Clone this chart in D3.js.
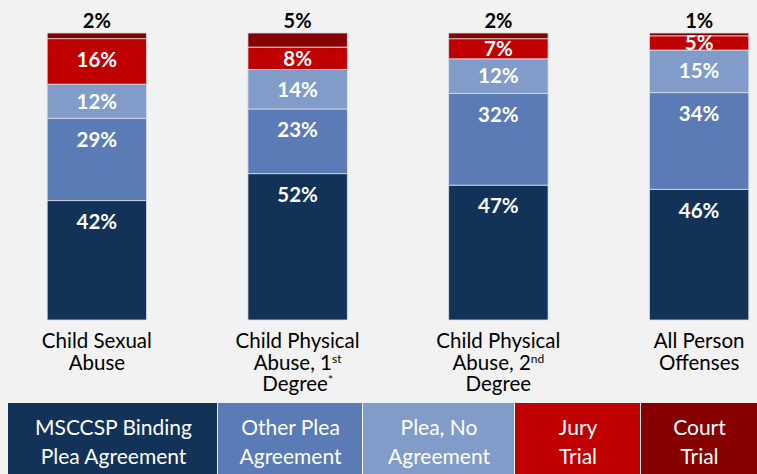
<!DOCTYPE html>
<html>
<head>
<meta charset="utf-8">
<script src="https://cdn.jsdelivr.net/npm/d3@7"></script>
<style>
  body { margin: 0; background: #f2f2f2; }
  svg { display: block; font-family: Lato, "Open Sans", sans-serif; }
</style>
</head>
<body>
<div id="chart"></div>
<script>
// categories and series, bottom to top
const categories = ["csa", "cpa1", "cpa2", "all"];
const categoryLines = [
  [["Child Sexual"], ["Abuse"]],
  [["Child Physical"], ["Abuse, 1", "st"], ["Degree", "*"]],
  [["Child Physical"], ["Abuse, 2", "nd"], ["Degree"]],
  [["All Person"], ["Offenses"]]
];
const seriesNames = ["MSCCSP Binding Plea Agreement", "Other Plea Agreement", "Plea, No Agreement", "Jury Trial", "Court Trial"];
const legendLines = [
  ["MSCCSP Binding", "Plea Agreement"],
  ["Other Plea", "Agreement"],
  ["Plea, No", "Agreement"],
  ["Jury", "Trial"],
  ["Court", "Trial"]
];
const colors = ["#133257", "#5a7bb5", "#819cc9", "#c00000", "#870000"];

const binding   = [42, 52, 47, 46];
const otherPlea = [29, 23, 32, 34];
const noAgree   = [12, 14, 12, 15];
const jury      = [16, 8, 7, 5];
const court     = [2, 5, 2, 1];

const width = 757, height = 474;
const plotTop = 33, plotBottom = 320;

const rows = categories.map((c, i) => ({
  cat: c,
  s0: binding[i], s1: otherPlea[i], s2: noAgree[i], s3: jury[i], s4: court[i]
}));
const keys = ["s0", "s1", "s2", "s3", "s4"];

const stacked = d3.stack().keys(keys).offset(d3.stackOffsetExpand)(rows);

const x = d3.scaleBand().domain(categories).range([-3, 799])
  .paddingInner(0.505).paddingOuter(0.25);
const y = d3.scaleLinear().domain([0, 1]).range([plotBottom, plotTop]);

const svg = d3.select("#chart").append("svg")
  .attr("width", width)
  .attr("height", height);

svg.append("rect").attr("width", width).attr("height", height).attr("fill", "#f2f2f2");

const layer = svg.selectAll("g.layer")
  .data(stacked)
  .join("g")
  .attr("class", "layer")
  .attr("fill", (d, i) => colors[i]);

layer.selectAll("rect")
  .data(d => d)
  .join("rect")
  .attr("x", d => x(d.data.cat))
  .attr("y", d => y(d[1]))
  .attr("width", x.bandwidth())
  .attr("height", d => y(d[0]) - y(d[1]))
  .attr("stroke", "#d9dde6")
  .attr("stroke-width", 0.8);

// value labels near the inside end of each segment (white), first four series
stacked.slice(0, 4).forEach((s, si) => {
  svg.append("g").selectAll("text")
    .data(s)
    .join("text")
    .attr("x", d => x(d.data.cat) + x.bandwidth() / 2)
    .attr("y", d => Math.min(y(d[1]) + 21, (y(d[0]) + y(d[1])) / 2))
    .attr("dy", "0.36em")
    .attr("text-anchor", "middle")
    .attr("fill", "#fff")
    .attr("font-weight", "bold")
    .attr("font-size", 20.5)
    .text(d => d.data["s" + si] + "%");
});

// court trial labels above bars (black)
svg.append("g").selectAll("text")
  .data(stacked[4])
  .join("text")
  .attr("x", d => x(d.data.cat) + x.bandwidth() / 2)
  .attr("y", y(1) - 5)
  .attr("text-anchor", "middle")
  .attr("fill", "#000")
  .attr("font-weight", "bold")
  .attr("font-size", 20)
  .text(d => d.data.s4 + "%");

// category labels, one text per category with a tspan per line
const lineH = 21.5, supShift = 7;
categories.forEach((c, i) => {
  const cx = x(c) + x.bandwidth() / 2;
  const t = svg.append("text")
    .attr("x", cx)
    .attr("y", 348)
    .attr("text-anchor", "middle")
    .attr("font-size", 20.5)
    .attr("fill", "#000");
  let carry = 0;
  categoryLines[i].forEach((ln, li) => {
    const main = t.append("tspan").attr("x", cx).text(ln[0]);
    if (li > 0) main.attr("dy", lineH + carry);
    carry = 0;
    if (ln[1]) {
      t.append("tspan").attr("font-size", 12).attr("dy", -supShift).text(ln[1]);
      carry = supShift;
    }
  });
});

// legend boxes
const legendEdges = [8, 217, 362, 514, 640, 757];
const legendTop = 403;
const lg = svg.append("g");
seriesNames.forEach((name, i) => {
  const x0 = legendEdges[i], x1 = legendEdges[i + 1];
  lg.append("rect")
    .attr("x", x0 + (i ? 1 : 0))
    .attr("y", legendTop)
    .attr("width", x1 - x0 - (i ? 1 : 0))
    .attr("height", height - legendTop)
    .attr("fill", colors[i]);
  const t = lg.append("text")
    .attr("x", (x0 + x1) / 2 + 1)
    .attr("y", 435)
    .attr("text-anchor", "middle")
    .attr("fill", "#fff")
    .attr("font-size", 21);
  legendLines[i].forEach((ln, li) => {
    t.append("tspan")
      .attr("x", (x0 + x1) / 2 + 1)
      .attr("dy", li ? 29 : 0)
      .text(ln);
  });
});
</script>
</body>
</html>
